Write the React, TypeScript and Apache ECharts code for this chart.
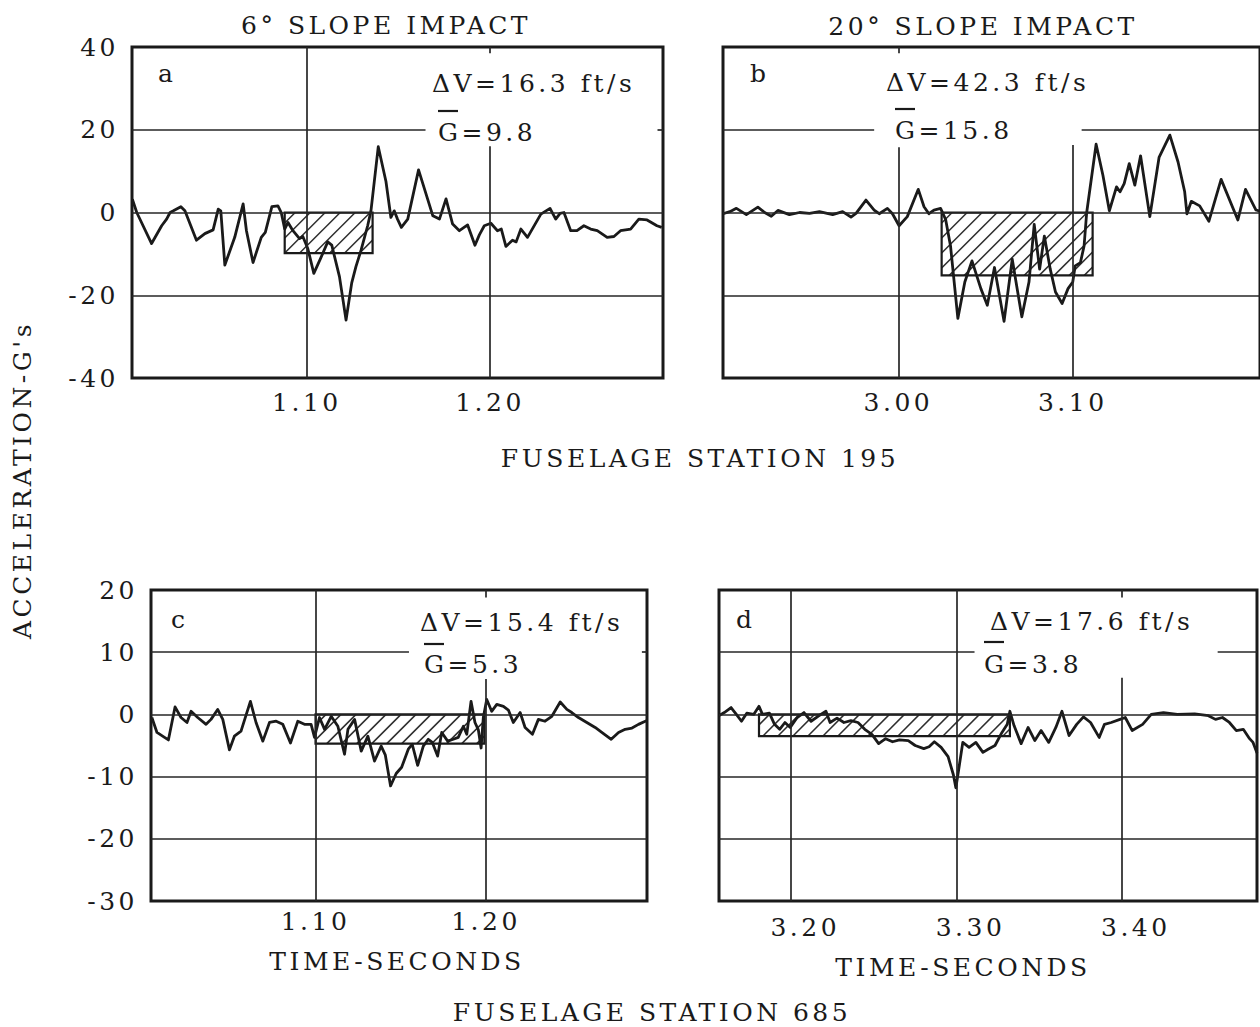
import React, { useEffect, useRef } from "react";
import * as echarts from "echarts";

const INK = "#1a1a1a";
const FONT = "'DejaVu Serif', 'Liberation Serif', serif";

// ---------- data (time in seconds, acceleration in G's) ----------
const seriesA: [number, number][] = [
  [1.0047, 3.2], [1.0071, 0], [1.0152, -7.5], [1.0207, -3.2], [1.0234, -1.6], [1.0253, 0], [1.0271, 0.4],
  [1.0312, 1.4], [1.0334, 0.4], [1.0397, -6.7], [1.0443, -5.1], [1.0488, -4.2], [1.0516, 0.8], [1.053, 0.4],
  [1.0552, -12.7], [1.0606, -6], [1.0652, 2.1], [1.067, -4.4], [1.0706, -12.1], [1.0751, -6], [1.0773, -4.8],
  [1.0809, 1.4], [1.0842, 1.6], [1.086, 0], [1.0879, -4], [1.0897, -2.4], [1.0924, -4.4], [1.096, -6.3],
  [1.0978, -5.8], [1.1005, -8.7], [1.1038, -14.7], [1.1075, -11.1], [1.1114, -7.1], [1.1136, -7.9],
  [1.1178, -15.5], [1.1214, -26], [1.1245, -17], [1.1268, -13.1], [1.1296, -9.1], [1.1332, -3.2],
  [1.135, 0.4], [1.139, 15.9], [1.1432, 7.5], [1.1459, -1.2], [1.1477, 0.4], [1.1495, -1.6], [1.1516, -3.6],
  [1.1551, -1.6], [1.161, 10.3], [1.1688, -0.8], [1.1724, -1.6], [1.176, 3.3], [1.1796, -2.8], [1.1833, -4.4],
  [1.1878, -3.0], [1.1918, -7.9], [1.1942, -5.4], [1.1969, -3.2], [1.2005, -2.6], [1.2041, -4.4], [1.2062, -4],
  [1.2087, -8.2], [1.2123, -6.7], [1.2143, -7.1], [1.2169, -4], [1.2205, -6], [1.2278, -0.4], [1.2328, 1],
  [1.2359, -1.6], [1.2383, -0.2], [1.2404, 0], [1.2441, -4.4], [1.2475, -4.4], [1.2513, -3.2], [1.255, -4],
  [1.2586, -4.4], [1.264, -6], [1.2677, -5.8], [1.2713, -4.4], [1.2768, -4.0], [1.2813, -1.6], [1.2858, -1.8],
  [1.2912, -3.2], [1.2938, -3.6],
];

const seriesB: [number, number][] = [
  [2.8994, -0.3], [2.9033, 0.2], [2.9071, 1.0], [2.9128, -0.5], [2.9194, 1.3], [2.9233, 0], [2.9271, -0.9],
  [2.9309, 0.5], [2.9375, -0.5], [2.9433, 0], [2.949, -0.2], [2.9547, 0.2], [2.9623, -0.5], [2.968, 0.2],
  [2.9728, -1.1], [2.9757, -0.2], [2.9814, 3.0], [2.9861, 0.6], [2.989, -0.3], [2.9937, 1.0], [2.9966, -0.3],
  [3.0004, -3.2], [3.0051, -1.0], [3.0114, 5.6], [3.0147, 1.4], [3.0175, -0.3], [3.0204, 0.6], [3.0242, 1.0],
  [3.0271, -1.7], [3.0299, -8.1], [3.0341, -25.6], [3.0381, -16.8], [3.0422, -11.7], [3.0473, -18.4],
  [3.051, -22.4], [3.0551, -13.3], [3.0606, -26.3], [3.0653, -11.3], [3.0708, -25.2], [3.0749, -16.8],
  [3.0779, -2.9], [3.081, -13.7], [3.0837, -5.7], [3.0871, -13.7], [3.0901, -19.2], [3.0939, -22],
  [3.0973, -18.4], [3.1, -16.8], [3.1014, -12.9], [3.1044, -12.1], [3.1065, -8.1], [3.108, 0], [3.1134, 16.5],
  [3.1173, 9], [3.121, 0.4], [3.1251, 6.2], [3.1271, 5], [3.1295, 7], [3.1324, 11.8], [3.1356, 6.6],
  [3.1389, 13.7], [3.1442, -1], [3.1495, 13.3], [3.1557, 18.7], [3.1604, 12.2], [3.1642, 5], [3.1655, -0.3],
  [3.168, 2.7], [3.1728, 1.6], [3.1781, -2.1], [3.1851, 8], [3.1947, -1.8], [3.1991, 5.6], [3.2051, 0.6],
  [3.2074, 0.3],
];

const seriesC: [number, number][] = [
  [1.004, -0.5], [1.007, -2.9], [1.0103, -3.5], [1.0137, -4.1], [1.0176, 1.2], [1.0211, -0.5], [1.0246, -1.3],
  [1.027, 0.5], [1.0309, -0.5], [1.0358, -1.6], [1.0387, -0.8], [1.0426, 0.8], [1.0456, -0.8], [1.0495, -5.7],
  [1.0524, -3.5], [1.0563, -2.7], [1.0618, 2.1], [1.0651, -1.3], [1.0691, -4.3], [1.073, -1.3], [1.0769, -1.1],
  [1.0808, -1.6], [1.0853, -4.6], [1.0896, -1.1], [1.0935, -1.6], [1.0974, -1.6], [1.0994, -3.7],
  [1.1023, -0.5], [1.1053, -2.4], [1.1092, -0.3], [1.1131, -1.9], [1.117, -6.4], [1.119, -2.4], [1.1229, -0.8],
  [1.1268, -5.9], [1.1307, -3.5], [1.1346, -7.5], [1.1385, -5.1], [1.1409, -6.5], [1.144, -11.5],
  [1.1473, -9.5], [1.1505, -8.5], [1.1544, -5.6], [1.1567, -4.8], [1.1599, -8.2], [1.1632, -5.1],
  [1.1661, -4.0], [1.1685, -4.5], [1.1716, -6.7], [1.174, -2.9], [1.1775, -4.3], [1.1808, -4.0],
  [1.1837, -3.7], [1.1867, -1.9], [1.1887, -3.2], [1.1912, 2.1], [1.1935, -1.3], [1.1955, -2.5],
  [1.1971, -5.4], [1.1984, -0.5], [1.2004, 2.4], [1.2033, 0.5], [1.2063, 1.6], [1.2102, 1.3], [1.2131, 0.7],
  [1.216, -1.3], [1.22, 0.3], [1.2229, -2.1], [1.2272, -3.2], [1.2307, -0.8], [1.2346, -1.1], [1.2386, -0.3],
  [1.2435, 2.0], [1.2474, 0.8], [1.2503, 0.3], [1.2542, -0.5], [1.2591, -1.3], [1.264, -2.1], [1.2679, -2.9],
  [1.2734, -4.0], [1.2777, -2.9], [1.2816, -2.4], [1.2856, -2.2], [1.2894, -1.6], [1.2934, -1.1],
  [1.2944, -1.0],
];

const seriesD: [number, number][] = [
  [3.1563, -0.2], [3.1595, 0.3], [3.1636, 1.1], [3.1668, 0], [3.1699, -1.1], [3.1731, 0.2], [3.1773, 0],
  [3.1805, 1.3], [3.1826, 0], [3.1868, 0.2], [3.1899, -1.6], [3.193, -2.4], [3.1962, -1.3], [3.1994, -2.1],
  [3.2036, -0.5], [3.2077, 0.3], [3.212, -1.1], [3.2162, -0.3], [3.221, 0.5], [3.2235, -1.3], [3.2277, -0.6],
  [3.2319, -1.3], [3.2361, -1.0], [3.2404, -1.3], [3.2445, -2.4], [3.2488, -3.2], [3.2529, -4.7],
  [3.2571, -3.9], [3.2613, -4.4], [3.2655, -4.1], [3.2708, -4.2], [3.275, -5.0], [3.2802, -5.5],
  [3.2834, -5.2], [3.2866, -4.4], [3.2907, -5.3], [3.2949, -6.8], [3.2981, -9.7], [3.2996, -11.8],
  [3.3013, -8.9], [3.3038, -4.5], [3.3076, -5.3], [3.3117, -4.5], [3.316, -6.1], [3.3191, -5.6],
  [3.3233, -5.0], [3.3275, -2.9], [3.3307, -1.6], [3.3323, 0.5], [3.3348, -1.8], [3.3391, -4.7],
  [3.3433, -2.1], [3.3474, -4.2], [3.3512, -2.6], [3.3558, -4.5], [3.3601, -2.1], [3.3638, 0.5],
  [3.3681, -3.4], [3.3727, -1.6], [3.3768, -0.4], [3.3811, -1.3], [3.3863, -3.7], [3.3895, -1.6],
  [3.3936, -1.3], [3.3989, -0.8], [3.4021, -0.5], [3.4063, -2.6], [3.4126, -1.6], [3.4178, 0], [3.4252, 0.3],
  [3.4336, 0], [3.4441, 0.1], [3.4524, -0.2], [3.4567, -0.8], [3.4609, -0.5], [3.4651, -1.3], [3.4693, -2.6],
  [3.4735, -2.4], [3.4773, -3.9], [3.4794, -4.5], [3.4818, -6.2],
];

// mean-G rectangles: [tStart, tEnd, top, bottom]
const hatchA = [1.0879, 1.1359, 0, -9.8];
const hatchB = [3.0248, 3.1114, 0, -15.2];
const hatchC = [1.1, 1.199, 0, -4.7];
const hatchD = [3.1805, 3.3323, 0, -3.5];

// axis ranges and tick values
const xRangeA = [1.0045, 1.2945];
const xRangeB = [2.8994, 3.2074];
const xRangeC = [1.0035, 1.2944];
const xRangeD = [3.1563, 3.4818];
const xTicksA = [1.1, 1.2];
const xTicksB = [3.0, 3.1];
const xTicksC = [1.1, 1.2];
const xTicksD = [3.2, 3.3, 3.4];
const yRangeTop = [-40, 40, 20];
const yRangeBottom = [-30, 20, 10];

// grid-line segments (data coordinates) – some are broken by the annotation boxes
const gridSegA = [
  [[1.0045, 20], [1.1648, 20]], [[1.2915, 20], [1.2945, 20]],
  [[1.0045, 0], [1.2945, 0]], [[1.0045, -20], [1.2945, -20]],
  [[1.1, -40], [1.1, 40]], [[1.2, -40], [1.2, 16]], [[1.2, 38.5], [1.2, 40]],
];
const gridSegB = [
  [[2.8994, 20], [2.9861, 20]], [[3.1051, 20], [3.2074, 20]],
  [[2.8994, 0], [3.2074, 0]], [[2.8994, -20], [3.2074, -20]],
  [[3.0, -40], [3.0, 15.8]], [[3.0, 38.5], [3.0, 40]], [[3.1, -40], [3.1, 16.3]],
];
const gridSegC = [
  [[1.0035, 10], [1.1548, 10]], [[1.2914, 10], [1.2944, 10]],
  [[1.0035, 0], [1.2944, 0]], [[1.0035, -10], [1.2944, -10]], [[1.0035, -20], [1.2944, -20]],
  [[1.1, -30], [1.1, 20]], [[1.2, -30], [1.2, 5.7]], [[1.2, 18.8], [1.2, 20]],
];
const gridSegD = [
  [[3.1563, 10], [3.3109, 10]], [[3.458, 10], [3.4818, 10]],
  [[3.1563, 0], [3.4818, 0]], [[3.1563, -10], [3.4818, -10]], [[3.1563, -20], [3.4818, -20]],
  [[3.2, -30], [3.2, 20]], [[3.3, -30], [3.3, 20]], [[3.4, -30], [3.4, 5.9]], [[3.4, 18.8], [3.4, 20]],
];

const panels = [
  { data: seriesA, hatch: hatchA, xr: xRangeA, ticks: xTicksA, yr: yRangeTop, seg: gridSegA,
    grid: { left: 132, top: 47, width: 531, height: 331 }, yLabels: true, xMargin: 12, xPad: 0 },
  { data: seriesB, hatch: hatchB, xr: xRangeB, ticks: xTicksB, yr: yRangeTop, seg: gridSegB,
    grid: { left: 723, top: 47, width: 539, height: 331 }, yLabels: false, xMargin: 12, xPad: 0 },
  { data: seriesC, hatch: hatchC, xr: xRangeC, ticks: xTicksC, yr: yRangeBottom, seg: gridSegC,
    grid: { left: 151, top: 590, width: 496, height: 311 }, yLabels: true, xMargin: 8, xPad: 0 },
  { data: seriesD, hatch: hatchD, xr: xRangeD, ticks: xTicksD, yr: yRangeBottom, seg: gridSegD,
    grid: { left: 719, top: 590, width: 538, height: 311 }, yLabels: false, xMargin: 14, xPad: 28 },
];

function renderHatch(params: any, api: any) {
  const pA = api.coord([api.value(0), api.value(2)]);
  const pB = api.coord([api.value(1), api.value(3)]);
  const left = Math.min(pA[0], pB[0]);
  const right = Math.max(pA[0], pB[0]);
  const top = Math.min(pA[1], pB[1]);
  const bottom = Math.max(pA[1], pB[1]);
  const step = 15;
  const children: any[] = [];
  for (let c = left + top + step * 0.7; c < right + bottom; c += step) {
    const xa = Math.max(left, c - bottom);
    const xb = Math.min(right, c - top);
    if (xb > xa) {
      children.push({
        type: "line",
        shape: { x1: xa, y1: c - xa, x2: xb, y2: c - xb },
        style: { stroke: "#2e2e2e", lineWidth: 1.5 },
      });
    }
  }
  children.push({
    type: "rect",
    shape: { x: left, y: top, width: right - left, height: bottom - top },
    style: { fill: "none", stroke: INK, lineWidth: 2.2 },
  });
  return { type: "group", children };
}

const txt = (text: string, x: number, y: number, align = "left", extra: any = {}) => ({
  type: "text",
  x,
  y,
  silent: true,
  ...extra,
  style: {
    text,
    fill: INK,
    font: `25px ${FONT}`,
    align,
    verticalAlign: "middle",
  },
});

const overline = (x1: number, x2: number, y: number) => ({
  type: "line",
  silent: true,
  shape: { x1, y1: y, x2, y2: y },
  style: { stroke: INK, lineWidth: 2.2 },
});

export default function App() {
  const ref = useRef<HTMLDivElement>(null);

  useEffect(() => {
    if (!ref.current) return;
    const chart = echarts.init(ref.current, undefined, { renderer: "svg" });

    const option: any = {
      animation: false,
      backgroundColor: "#fff",
      grid: panels.map((p) => ({
        ...p.grid,
        show: true,
        borderColor: INK,
        borderWidth: 3,
        backgroundColor: "transparent",
      })),
      xAxis: panels.map((p, i) => ({
        type: "value",
        gridIndex: i,
        min: p.xr[0],
        max: p.xr[1],
        axisLine: { show: false },
        axisTick: { show: false },
        splitLine: { show: false },
        axisLabel: {
          customValues: p.ticks,
          formatter: (v: number) => v.toFixed(2),
          fontFamily: FONT,
          fontSize: 25,
          color: INK,
          margin: p.xMargin,
          padding: [0, 0, 0, p.xPad],
        },
      })),
      yAxis: panels.map((p, i) => ({
        type: "value",
        gridIndex: i,
        min: p.yr[0],
        max: p.yr[1],
        interval: p.yr[2],
        axisLine: { show: false },
        axisTick: { show: false },
        splitLine: { show: false },
        axisLabel: {
          show: p.yLabels,
          fontFamily: FONT,
          fontSize: 25,
          color: INK,
          margin: 13,
        },
      })),
      series: panels.flatMap((p, i) => [
        {
          type: "custom",
          xAxisIndex: i,
          yAxisIndex: i,
          silent: true,
          z: 2,
          data: [p.hatch],
          renderItem: renderHatch,
        },
        {
          type: "line",
          xAxisIndex: i,
          yAxisIndex: i,
          data: p.data,
          showSymbol: false,
          symbol: "none",
          silent: true,
          z: 3,
          lineStyle: { color: INK, width: 2.8, join: "round" },
          markLine: {
            silent: true,
            symbol: ["none", "none"],
            label: { show: false },
            emphasis: { disabled: true },
            lineStyle: { type: "solid", color: "#262626", width: 1.7 },
            data: p.seg.map((s) => [{ coord: s[0] }, { coord: s[1] }]),
          },
        },
      ]),
      graphic: [
        txt("6° SLOPE IMPACT", 386, 25, "center"),
        txt("20° SLOPE IMPACT", 983, 26, "center"),
        txt("ACCELERATION-G's", 22, 480, "center", { rotation: Math.PI / 2 }),
        txt("FUSELAGE STATION 195", 700, 458, "center"),
        txt("TIME-SECONDS", 397, 961, "center"),
        txt("TIME-SECONDS", 963, 967, "center"),
        txt("FUSELAGE STATION 685", 652, 1012, "center"),
        // panel a
        txt("a", 158, 73),
        txt("ΔV=16.3 ft/s", 432, 83),
        txt("G=9.8", 438, 132),
        overline(438, 458, 111),
        // panel b
        txt("b", 750, 73),
        txt("ΔV=42.3 ft/s", 886, 82),
        txt("G=15.8", 895, 130),
        overline(895, 915, 109),
        // panel c
        txt("c", 171, 619),
        txt("ΔV=15.4 ft/s", 420, 622),
        txt("G=5.3", 424, 664),
        overline(424, 444, 644),
        // panel d
        txt("d", 736, 619),
        txt("ΔV=17.6 ft/s", 990, 621),
        txt("G=3.8", 984, 664),
        overline(984, 1004, 642),
      ],
    };

    chart.setOption(option);
    return () => chart.dispose();
  }, []);

  return (
    <div
      ref={ref}
      style={{
        position: "fixed",
        left: 0,
        top: 0,
        width: 1260,
        height: 1027,
        background: "#fff",
        letterSpacing: "3.5px",
      }}
    />
  );
}
